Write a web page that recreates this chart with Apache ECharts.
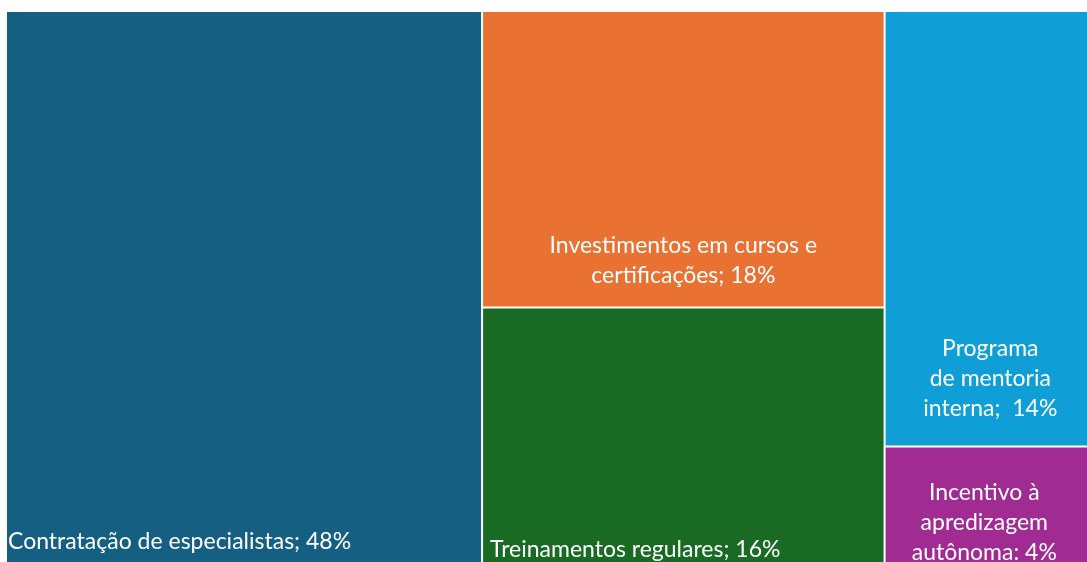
<!DOCTYPE html>
<html>
<head>
    <meta charset="utf-8">
    <title>Treemap</title>
    <script src="https://cdn.jsdelivr.net/npm/echarts@6/dist/echarts.min.js"></script>
    <style type="text/css">
        html,body{margin:0;padding:0;background:#fff;}
        #main{width:1087px;height:562px;}
    </style>
</head>
<body>
    <div id="main"></div>
    <script type="text/javascript">
        // categorias e valores
        var names = ['Contratação de especialistas', 'Investimentos em cursos e certificações', 'Treinamentos regulares', 'Programa de mentoria interna', 'Incentivo à apredizagem autônoma'];
        // texto dos rótulos, como aparece no gráfico
        var labelTexts = [
            'Contratação de especialistas; 48%',
            'Investimentos em cursos e\ncertificações; 18%',
            'Treinamentos regulares; 16%',
            'Programa\nde mentoria\ninterna;  14%',
            'Incentivo à\napredizagem\nautônoma: 4%'
        ];
        // tamanho relativo das áreas (estimado do desenho)
        var areaValues = [44.0, 19.8, 17.4, 14.7, 4.1];
        var colors = ['#156082', '#E97132', '#196B24', '#0F9ED5', '#A02B93'];

        // posição dos rótulos dentro de cada bloco
        var labelPos = [[1, '92.8%'], ['50%', '74.2%'], [7, '87.3%'], ['52%', '74.1%'], ['49%', '24.8%']];
        var labelAlign = ['left', 'center', 'left', 'center', 'center'];

        var data = [];
        for (var i = 0; i < names.length; i++) {
            data.push({
                name: names[i],
                value: areaValues[i],
                itemStyle: {color: colors[i]},
                label: {
                    formatter: labelTexts[i],
                    position: labelPos[i],
                    align: labelAlign[i],
                    verticalAlign: 'top'
                }
            });
        }

        var myChart = echarts.init(document.getElementById('main'));
        var option = {
            animation: false,
            series: [{
                type: 'treemap',
                left: 7,
                top: 12,
                width: 1080,
                height: 555,
                roam: false,
                nodeClick: false,
                breadcrumb: {show: false},
                itemStyle: {
                    borderWidth: 0,
                    gapWidth: 2,
                    borderColor: '#fff'
                },
                label: {
                    show: true,
                    color: '#fff',
                    fontFamily: 'Lato',
                    fontSize: 23,
                    lineHeight: 30,
                    padding: 0,
                    distance: 0,
                    overflow: 'none'
                },
                data: data
            }]
        };
        myChart.setOption(option);
    </script>
</body>
</html>
